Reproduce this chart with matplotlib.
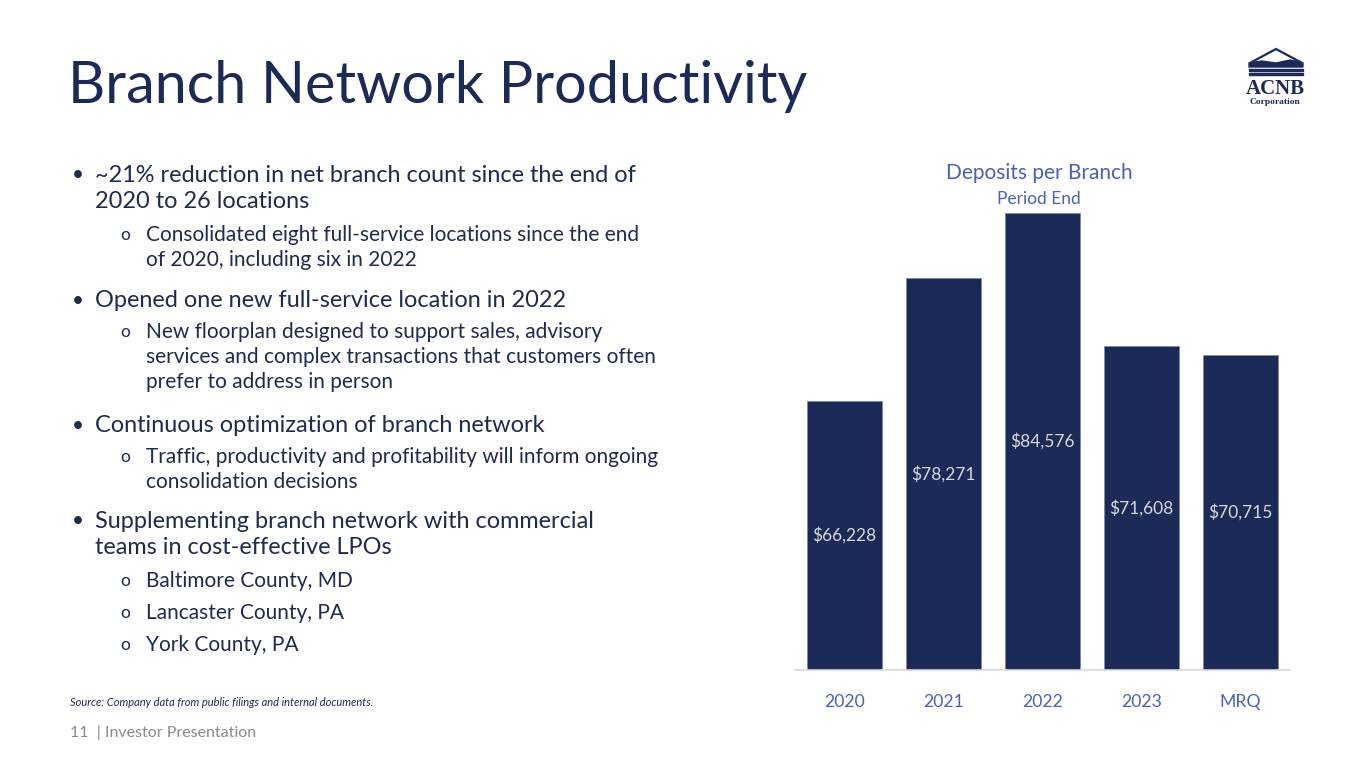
import matplotlib
matplotlib.use("Agg")
import matplotlib.pyplot as plt
from matplotlib.patches import Polygon, Rectangle

plt.rcParams['font.family'] = ['Lato', 'DejaVu Sans']

# chart data
periods = ["2020", "2021", "2022", "2023", "MRQ"]
deposits_per_branch = [66228, 78271, 84576, 71608, 70715]
value_labels = ["$66,228", "$78,271", "$84,576", "$71,608", "$70,715"]

title = "Branch Network Productivity"
chart_title = "Deposits per Branch"
chart_subtitle = "Period End"

# (level, text lines, y centre of first line in px)
bullets = [
    (0, ["~21% reduction in net branch count since the end of", "2020 to 26 locations"], 175),
    (1, ["Consolidated eight full-service locations since the end", "of 2020, including six in 2022"], 235),
    (0, ["Opened one new full-service location in 2022"], 301),
    (1, ["New floorplan designed to support sales, advisory",
         "services and complex transactions that customers often",
         "prefer to address in person"], 332),
    (0, ["Continuous optimization of branch network"], 426),
    (1, ["Traffic, productivity and profitability will inform ongoing", "consolidation decisions"], 457),
    (0, ["Supplementing branch network with commercial", "teams in cost-effective LPOs"], 521),
    (1, ["Baltimore County, MD"], 581),
    (1, ["Lancaster County, PA"], 613),
    (1, ["York County, PA"], 645),
]

NAVY = "#1b2a56"
TEXT = "#1f2b4e"
BLUE = "#4a62b5"
W, H = 1365, 768

fig = plt.figure(figsize=(W / 100, H / 100), dpi=100)
fig.patch.set_facecolor("white")


def fx(x):
    return x / W


def fy(y):
    return 1 - y / H


# slide title
fig.text(fx(68), fy(103), title, fontsize=41.5, color=NAVY, va="baseline", ha="left")

# bullet text
for level, lines, y0 in bullets:
    mark_x = 72 if level == 0 else 120
    text_x = 95 if level == 0 else 146
    step = 27 if level == 0 else 25
    mark = "•" if level == 0 else "o"
    fig.text(fx(mark_x), fy(y0), mark, fontsize=15 if level == 0 else 12.5,
             color=TEXT, va="center", ha="left")
    for i, line in enumerate(lines):
        fig.text(fx(text_x), fy(y0 + i * step), line,
                 fontsize=16.9 if level == 0 else 15, color=TEXT,
                 va="center", ha="left")

fig.text(fx(70), fy(703), "Source: Company data from public filings and internal documents.",
         fontsize=8, style="italic", color=TEXT, va="center", ha="left")
fig.text(fx(70), fy(733), "11  | Investor Presentation", fontsize=11.5,
         color="#8a8a8a", va="center", ha="left")

# bar chart
ax_left, ax_right = 795, 1290
ax_bottom, ax_top = 670, 190
ymin, ymax = 40000, 86820
ax = fig.add_axes([fx(ax_left), fy(ax_bottom), fx(ax_right - ax_left),
                   (ax_bottom - ax_top) / H])
x = range(len(periods))
ax.bar(x, deposits_per_branch, width=0.76, color=NAVY, edgecolor="#7f8aa8",
       linewidth=0.6, zorder=2)
ax.set_xlim(-0.5, len(periods) - 0.5)
ax.set_ylim(ymin, ymax)
for xi, v, lab in zip(x, deposits_per_branch, value_labels):
    ax.text(xi, (v + ymin) / 2, lab, ha="center", va="center", fontsize=12.5,
            color="#d9d9d9", zorder=3)
for s in ["top", "right", "left"]:
    ax.spines[s].set_visible(False)
ax.spines["bottom"].set_color("#d9d9d9")
ax.spines["bottom"].set_linewidth(1.2)
ax.set_yticks([])
ax.set_xticks(list(x))
ax.set_xticklabels(periods, fontsize=12.7, color=BLUE)
ax.tick_params(axis="x", length=0, pad=17)
ax.patch.set_alpha(0)

fig.text(fx(1039), fy(173), chart_title, fontsize=15, color=BLUE, ha="center", va="center")
fig.text(fx(1039), fy(199), chart_subtitle, fontsize=12.5, color=BLUE, ha="center", va="center")

# logo
lx = fig.add_axes([0, 0, 1, 1], zorder=-1)
lx.set_xlim(0, W)
lx.set_ylim(H, 0)
lx.axis("off")
lx.add_patch(Polygon([(1250, 63), (1276, 49), (1302, 63)], closed=False,
                     fill=False, edgecolor=NAVY, linewidth=1.6))
lx.add_patch(Polygon([(1249, 63), (1262, 61), (1276, 63), (1290, 60), (1303, 63),
                      (1303, 67), (1249, 67)], closed=True, color=NAVY))
lx.add_patch(Rectangle((1249, 69), 54, 2, color=NAVY))
lx.add_patch(Rectangle((1249, 73), 54, 2, color=NAVY))
lx.text(1275, 89, "ACNB", fontsize=15, family="Liberation Serif", weight="bold",
        color=NAVY, ha="center", va="center")
lx.text(1275, 102, "Corporation", fontsize=6.8, family="Liberation Serif",
        weight="bold", color=NAVY, ha="center", va="center")

fig.savefig("out.png", dpi=100)
